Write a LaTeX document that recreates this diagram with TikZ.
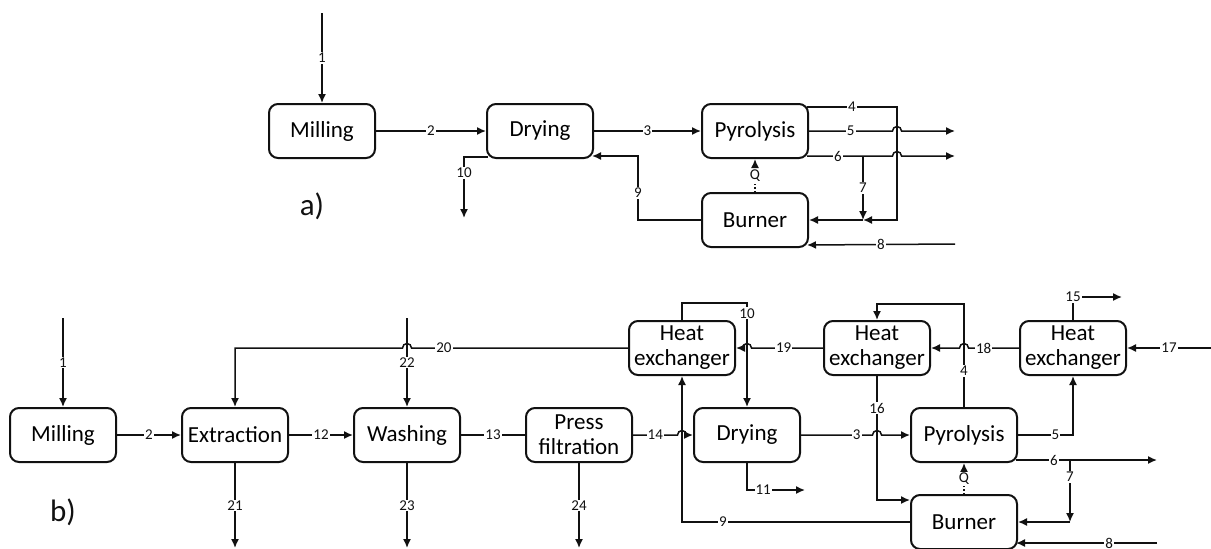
\documentclass[tikz,border=0pt]{standalone}
\usepackage{fontspec}
\setmainfont{Carlito}
\usepackage{tikz}
\usetikzlibrary{arrows.meta,calc,positioning}
\definecolor{Ink}{HTML}{111111}
\tikzset{
  every picture/.style={line width=1.5pt},
  unitbox/.style={
    draw=Ink,
    rounded corners=9pt,
    align=center,
    font=\fontsize{23}{25}\selectfont,
    minimum width=106pt,
    minimum height=54pt,
    inner sep=2pt,
    line width=2pt,
    fill=white
  },
  flowline/.style={draw=Ink},
  flowarrow/.style={draw=Ink, -{Latex[length=9pt,width=8pt]}},
  heatarrow/.style={flowarrow, dotted},
  tinylabel/.style={font=\fontsize{15}{15}\selectfont, text=Ink, fill=white, inner sep=1pt},
  partlabel/.style={font=\fontsize{31}{31}\selectfont, text=Ink}
}

\begin{document}
\begin{tikzpicture}[x=1pt,y=-1pt]
  \useasboundingbox (0,0) rectangle (1211,549);

  % a) milling, drying, pyrolysis
  \node[unitbox] (millA) at (322,131) {Milling};
  \node[unitbox] (dryA) at (540,131) {Drying};
  \node[unitbox] (pyrA) at (755,131) {Pyrolysis};
  \node[unitbox] (burnA) at (755,220) {Burner};
  \node[partlabel] (tagA) at (312,206) {a)};

  \coordinate (inA1) at (322,13);
  \coordinate (outA10) at (464,218);
  \coordinate (busA) at (897,107);
  \coordinate (splitA) at (863,156);
  \coordinate (mixA) at (863,220);
  \coordinate (outA5) at (955,131);
  \coordinate (outA6) at (955,156);
  \coordinate (inA8) at (955,244);

  \draw[flowarrow] (inA1) -- node[tinylabel]{1} (millA);
  \draw[flowarrow] (millA) -- node[tinylabel]{2} (dryA);
  \draw[flowarrow] (dryA) -- node[tinylabel]{3} (pyrA);
  \draw[flowarrow] ([xshift=2pt,yshift=2pt]dryA.south west) -| node[tinylabel,pos=0.63]{10} (outA10);
  \draw[flowarrow] (burnA.west) -- ++(-63,0) |- node[tinylabel,pos=0.21]{9} ([xshift=-2pt,yshift=3pt]dryA.south east);
  \draw[flowarrow] ($(busA-|pyrA.east)+(-2,0)$) -- node[tinylabel]{4} (busA) |- (mixA);
  \draw[flowarrow] (pyrA.east) -- node[tinylabel]{5} ($(busA|-pyrA.east)+(-4.5,0)$)
    arc[start angle=180,end angle=0,radius=4.5pt] -- (outA5);
  \draw[flowarrow] ($(splitA-|pyrA.east)+(-2,0)$) -- node[tinylabel,pos=0.55]{6} (splitA)
    -- ($(busA|-splitA)+(-4.5,0)$) arc[start angle=180,end angle=0,radius=4.5pt] -- (outA6);
  \draw[flowarrow] (splitA) -- node[tinylabel]{7} (mixA);
  \draw[flowarrow] (mixA) -- (burnA.east);
  \draw[flowarrow] (inA8) -- node[tinylabel]{8} ([xshift=-2pt,yshift=3pt]burnA.south east);
  \draw[heatarrow] (burnA) -- node[tinylabel]{Q} (pyrA);

  % b) with extraction and heat recovery
  \node[unitbox] (millB) at (63,435) {Milling};
  \node[unitbox] (extB) at (235,435) {Extraction};
  \node[unitbox] (washB) at (407,435) {Washing};
  \node[unitbox] (pressB) at (579,435) {Press\\filtration};
  \node[unitbox] (dryB) at (747,435) {Drying};
  \node[unitbox] (pyrB) at (964,435) {Pyrolysis};
  \node[unitbox] (burnB) at (964,522) {Burner};
  \node[unitbox] (hxA) at (682,348) {Heat\\exchanger};
  \node[unitbox] (hxB) at (877,348) {Heat\\exchanger};
  \node[unitbox] (hxC) at (1073,348) {Heat\\exchanger};
  \node[partlabel] (tagB) at (63,512) {b)};

  \coordinate (inB1) at (63,318);
  \coordinate (inB22) at (407,318);
  \coordinate (outB21) at (235,548);
  \coordinate (outB23) at (407,548);
  \coordinate (outB24) at (579,548);
  \coordinate (outB11) at (805,490);
  \coordinate (outB15) at (1122,297);
  \coordinate (inB17) at (1211,348);
  \coordinate (splitB) at (1070,460);
  \coordinate (mixB) at (1070,522);
  \coordinate (outB6) at (1157,460);
  \coordinate (inB8) at (1157,543);

  \draw[flowarrow] (inB1) -- node[tinylabel]{1} (millB);
  \draw[flowarrow] (millB) -- node[tinylabel]{2} (extB);
  \draw[flowarrow] (extB) -- node[tinylabel]{12} (washB);
  \draw[flowline] (washB) -- node[tinylabel]{13} (pressB);
  \draw[flowarrow] (pressB) -- node[tinylabel]{14} ($(hxA.south|-pressB.east)+(-4.5,0)$)
    arc[start angle=180,end angle=0,radius=4.5pt] -- (dryB);
  \draw[flowarrow] (extB) -- node[tinylabel]{21} (outB21);
  \draw[flowarrow] (washB) -- node[tinylabel]{23} (outB23);
  \draw[flowarrow] (pressB) -- node[tinylabel]{24} (outB24);
  \draw[flowarrow] (inB22) -- node[tinylabel]{22} (washB);
  \draw[flowarrow] (hxA.west) -- node[tinylabel,pos=0.85]{20} ($(washB.north|-hxA.west)+(4.5,0)$)
    arc[start angle=0,end angle=180,radius=4.5pt] -| (extB.north);
  \draw[flowarrow] (hxA.north) -- ++(0,-17) -| node[tinylabel,pos=0.55]{10} (dryB.north);
  \draw[flowarrow] (hxB.west) -- node[tinylabel,pos=0.55]{19} ($(dryB.north|-hxB.west)+(4.5,0)$)
    arc[start angle=0,end angle=180,radius=4.5pt] -- (hxA.east);
  \draw[flowarrow] (pyrB.north) -- node[tinylabel,pos=0.35]{4} ++(0,-103) -| (hxB.north);
  \draw[flowarrow] (hxC.west) -- node[tinylabel,pos=0.7]{18} ($(pyrB.north|-hxC.west)+(4.5,0)$)
    arc[start angle=0,end angle=180,radius=4.5pt] -- (hxB.east);
  \draw[flowarrow] (inB17) -- node[tinylabel]{17} (hxC);
  \draw[flowarrow] (hxC.north) |- node[tinylabel]{15} (outB15);
  \draw[flowarrow] (pyrB.east) -| node[tinylabel,pos=0.34]{5} (hxC.south);
  \draw[flowarrow] ($(splitB-|pyrB.east)+(-2,0)$) -- node[tinylabel,pos=0.7]{6} (splitB) -- (outB6);
  \draw[flowarrow] (splitB) -- node[tinylabel,pos=0.27]{7} (mixB);
  \draw[flowarrow] (mixB) -- (burnB.east);
  \draw[flowarrow] (inB8) -- node[tinylabel,pos=0.34]{8} ($(inB8-|burnB.east)+(-2,0)$);
  \draw[flowarrow] (hxB.south) |- node[tinylabel,pos=0.13]{16} ([yshift=22pt]burnB.west);
  \draw[flowarrow] (dryB) -- node[tinylabel,pos=0.78]{3} ($(hxB.south|-dryB.east)+(-4.5,0)$)
    arc[start angle=180,end angle=0,radius=4.5pt] -- (pyrB);
  \draw[flowarrow] (burnB.west) -| node[tinylabel,pos=0.41]{9} (hxA.south);
  \draw[flowarrow] (dryB.south) |- node[tinylabel,pos=0.64]{11} (outB11);
  \draw[heatarrow] (burnB) -- node[tinylabel]{Q} (pyrB);
\end{tikzpicture}
\end{document}
